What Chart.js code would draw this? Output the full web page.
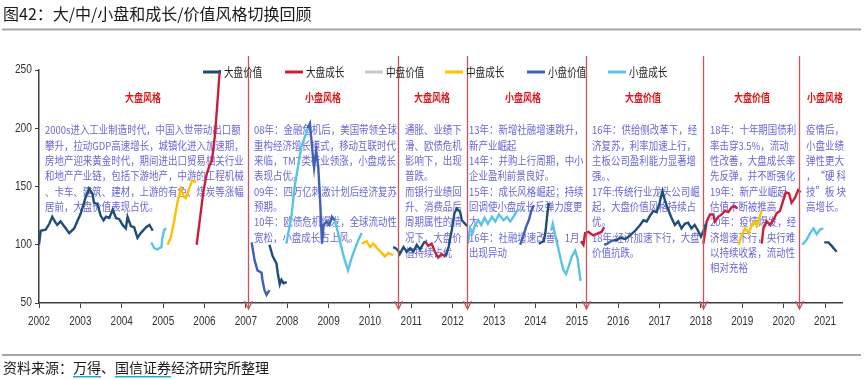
<!DOCTYPE html>
<html><head><meta charset="utf-8">
<script src="https://cdn.jsdelivr.net/npm/chart.js@4/dist/chart.umd.min.js"></script>
<style>html,body{margin:0;padding:0;background:#fff;}canvas{display:block}</style>
</head><body>
<canvas id="c" width="865" height="380"></canvas>
<script>
// ---- Series data (year, index value); null = break between segments ----
const seriesNames = ['大盘价值','大盘成长','中盘价值','中盘成长','小盘价值','小盘成长'];

const bigValueX = [2002.00,2002.04,2002.16,2002.25,2002.32,2002.40,2002.44,2002.52,2002.65,2002.73,2002.85,2003.01,2003.13,2003.21,2003.29,2003.33,2003.41,2003.49,2003.56,2003.62,2003.70,2003.78,2003.86,2003.94,2004.02,2004.10,2004.14,2004.22,2004.30,2004.38,2004.46,2004.59,2004.67,2004.75,null,
  2007.57,2007.65,2007.74,2007.77,2007.82,2007.86,2007.91,2007.99,null,
  2010.56,2010.62,2010.68,2010.72,2010.81,2010.89,2010.97,2011.05,2011.13,2011.21,2011.29,2011.33,null,
  2011.82,2011.90,2011.98,2012.04,2012.10,2012.18,2012.22,2012.30,2012.36,null,
  2014.08,2014.20,2014.24,2014.28,2014.32,null,
  2015.90,2015.97,2016.05,2016.17,2016.29,2016.41,2016.53,2016.61,2016.69,2016.77,2016.85,2016.93,2017.00,2017.07,2017.13,2017.21,2017.29,2017.37,2017.45,2017.53,2017.61,2017.69,2017.77,2017.85,2017.93,2018.00,2018.06,2018.12,null,
  2020.98,2021.08,2021.16,2021.28];
const bigValueY = [100,112,113,118,124,119,117,120,114,110,114,127,141,148,144,136,135,125,121,124,123,130,123,122,117,114,124,116,115,106,110,115,117,112,null,
  100,90,84,76,66,70,67,68,null,
  98,97,95,92,98,94,97,94,100,96,101,103,null,
  90,98,113,127,131,128,121,118,116,null,
  101,103,110,124,136,null,
  104,104,106,105,108,112,117,121,120,125,129,128,136,146,138,130,123,117,120,114,118,119,114,117,112,107,112,118,null,
  102,102,99,94];

const bigGrowthX = [2005.81,2005.89,2005.97,2006.05,2006.12,2006.18,2006.25,2006.30,2006.37,null,
  2011.33,2011.41,2011.49,2011.57,2011.65,2011.73,2011.82,null,
  2015.10,2015.16,2015.20,2015.28,2015.40,2015.52,2015.60,2015.66,null,
  2018.06,2018.14,2018.22,2018.30,2018.34,2018.42,2018.50,2018.58,2018.66,2018.74,2018.82,2018.88,null,
  2019.47,2019.51,2019.59,2019.67,2019.75,2019.83,2019.91,2019.99,2020.05,2020.13,2020.19,2020.27,2020.35,2020.41];
const bigGrowthY = [100,122,145,160,168,172,193,216,250,null,
  103,99,101,94,89,92,90,null,
  103,100,110,111,108,110,111,115,null,
  101,120,126,126,120,124,126,129,128,132,133,131,null,
  101,114,120,117,121,127,129,138,145,144,136,140,147,145];

const midValueX = [];
const midValueY = [];

const midGrowthX = [2005.11,2005.19,2005.27,2005.35,2005.43,2005.50,2005.55,2005.63,2005.70,2005.80,null,
  2009.80,2009.92,2010.00,2010.08,2010.20,2010.28,2010.36,2010.44,2010.56,null,
  2018.91,2018.99,2019.07,2019.15,2019.23,2019.29,2019.35,2019.41,2019.47];
const midGrowthY = [100,107,121,137,148,141,140,148,155,154,null,
  101,103,98,101,96,93,90,93,91,null,
  100,109,114,110,117,120,116,123,129];

const smallValueX = [2007.14,2007.21,2007.28,2007.38,2007.40,2007.45,2007.50,2007.57,null,
  2008.50,2008.55,2008.60,2008.65,2008.70,2008.75,2008.80,2008.84,2008.88,2008.95,2009.02,2009.08,2009.15,null,
  2013.63,2013.70,2013.78,2013.84,2013.90,2013.96,null,
  2015.66,2015.74,2015.82,2015.90];
const smallValueY = [102,87,78,76,70,61,57,61,null,
  200,204,184,166,181,167,134,101,117,120,117,124,121,null,
  100,107,116,121,129,134,null,
  100,101,103,104];

const smallGrowthX = [2004.71,2004.79,2004.86,2004.96,2004.98,2005.03,2005.08,null,
  2007.98,2008.10,2008.18,2008.26,2008.34,2008.42,2008.50,null,
  2009.15,2009.19,2009.28,2009.38,2009.47,2009.55,2009.63,2009.72,2009.80,null,
  2012.37,2012.42,2012.48,2012.54,2012.62,2012.69,2012.77,2012.85,2012.95,2013.03,2013.12,2013.23,2013.31,2013.39,2013.47,2013.53,2013.60,null,
  2014.38,2014.42,2014.48,2014.54,2014.62,2014.68,2014.74,2014.80,2014.88,2014.96,2015.02,2015.09,null,
  2020.45,2020.55,2020.64,2020.72,2020.80,2020.88,2020.96];
const smallGrowthY = [102,97,96,98,106,113,114,null,
  101,124,150,167,184,192,200,null,
  121,116,102,88,78,88,96,104,110,null,
  101,114,110,117,121,117,123,118,124,120,126,121,124,120,124,128,130,null,
  112,118,108,99,86,78,75,81,90,95,88,69,null,
  100,104,110,114,109,113,114];

// style switch dates (arrows)
const switchYears = [2007.05, 2010.68, 2012.34, 2015.21, 2018.06, 2020.38];

const yearTicks = [2002,2003,2004,2005,2006,2007,2008,2009,2010,2011,2012,2013,2014,2015,2016,2017,2018,2019,2020,2021];
const valueTicks = [50,100,150,200,250];

// ---- text ----
const titleText = '图42：大/中/小盘和成长/价值风格切换回顾';
const sourceText = ['资料来源：','万得','、','国信证券','经济研究所整理'];
const headings = ['大盘风格','小盘风格','大盘风格','小盘风格','大盘价值','大盘价值','小盘风格'];
const notes = [
 ['2000s进入工业制造时代，中国入世带动出口额','攀升，拉动GDP高速增长，城镇化进入加速期，','房地产迎来黄金时代，期间进出口贸易相关行业','和地产产业链，包括下游地产，中游的工程机械','、卡车、建筑、建材，上游的有色、煤炭等涨幅','居前，大盘价值表现占优。'],
 ['08年：金融危机后，美国带领全球','重构经济增长模式，移动互联时代','来临，TMT类行业领涨，小盘成长','表现占优。','09年：四万亿刺激计划后经济复苏','预期。','10年：欧债危机爆发，全球流动性','宽松，小盘成长占上风。'],
 ['通胀、业绩下','滑、欧债危机','影响下，出现','普跌。','而银行业绩回','升、消费品后','周期属性的情','况下，大盘价','值持续占优'],
 ['13年：新增社融增速跳升，','新产业崛起','14年：并购上行周期，中小','企业盈利前景良好。','15年：成长风格崛起；持续','回调使小盘成长反弹力度更','大','16年：社融增速改善，1月','出现异动'],
 ['16年：供给侧改革下，经','济复苏，利率加速上行，','主板公司盈利能力显著增','强。、','17年:传统行业龙头公司崛','起，大盘价值风格持续占','优。','18年:经济加速下行，大盘','价值抗跌。'],
 ['18年：十年期国债利','率击穿3.5%，流动','性改善，大盘成长率','先反弹，并不断强化','19年：新产业崛起','估值不断被推高','20年：疫情爆发，经','济增速下行，央行难','以持续收紧，流动性','相对充裕'],
 ['疫情后，','小盘业绩','弹性更大','，“硬 科','技”板 块','高增长。']
];

// ---- layout (pixels) ----
const headingPos = [143,323,432,523,643,752,825];
const notePos = [45,254,405,469,592,710,806];
const colors = ['#1F4E79','#C8203A','#C9C9C9','#FFC000','#3F5FB8','#5BC3E6'];
const CJK = '"Noto Sans CJK SC","Noto Sans CJK JP",sans-serif';
const NUM = '"Liberation Sans",Arial,sans-serif';

function mk(xs, ys){ return xs.map((x,i)=>({x:x, y:ys[i]})); }
const allX=[bigValueX,bigGrowthX,midValueX,midGrowthX,smallValueX,smallGrowthX];
const allY=[bigValueY,bigGrowthY,midValueY,midGrowthY,smallValueY,smallGrowthY];
const datasets = seriesNames.map((n,i)=>({label:n, data:mk(allX[i],allY[i]), borderColor:colors[i], backgroundColor:colors[i], borderWidth:2.4, pointRadius:0, spanGaps:false, tension:0}));

function sText(ctx, t, x, y, sx, align){
  ctx.save(); ctx.translate(x,y); ctx.scale(sx,1);
  ctx.textAlign = align||'left'; ctx.fillText(t,0,0); ctx.restore();
}

const overlay = {
  id:'overlay',
  beforeDatasetsDraw(chart){
    const ctx = chart.ctx;
    ctx.save();
    ctx.textBaseline='middle';
    ctx.fillStyle='#E3141B'; ctx.font='bold 11px '+CJK;
    headings.forEach((h,i)=> sText(ctx,h,headingPos[i],98,0.82,'center'));
    ctx.fillStyle='#6A66D9'; ctx.font='11px '+CJK;
    notes.forEach((blk,i)=> blk.forEach((ln,j)=> sText(ctx,ln,notePos[i],130+j*15.35,0.86,'left')));
    ctx.restore();
  },
  afterDatasetsDraw(chart){
    const ctx = chart.ctx, xs = chart.scales.x, ys = chart.scales.y, a = chart.chartArea;
    ctx.save();
    // axis tick labels (narrow style), placed by the library's scales
    ctx.fillStyle='#333'; ctx.font='12.5px '+NUM; ctx.textBaseline='middle';
    xs.ticks.forEach(t=> sText(ctx,String(t.value),xs.getPixelForValue(t.value),322,0.8,'center'));
    ys.ticks.forEach(t=> sText(ctx,String(t.value),32,ys.getPixelForValue(t.value),0.82,'right'));
    // switch arrows
    ctx.strokeStyle='#C9545A'; ctx.lineWidth=1.3;
    switchYears.forEach(yr=>{
      const px = Math.round(xs.getPixelForValue(yr))+0.5;
      ctx.beginPath(); ctx.moveTo(px,56); ctx.lineTo(px,a.bottom+6); ctx.stroke();
      ctx.beginPath(); ctx.moveTo(px-4,a.bottom-2); ctx.lineTo(px,a.bottom+6); ctx.lineTo(px+4,a.bottom-2); ctx.stroke();
    });
    // legend
    ctx.textBaseline='middle'; ctx.font='12px '+CJK;
    const lx=[203,285,365,445,527,608];
    chart.data.datasets.forEach((d,i)=>{
      ctx.strokeStyle=d.borderColor; ctx.lineWidth=3;
      ctx.beginPath(); ctx.moveTo(lx[i],72); ctx.lineTo(lx[i]+18,72); ctx.stroke();
      ctx.fillStyle='#222'; sText(ctx,d.label,lx[i]+21,72,0.8,'left');
    });
    ctx.restore();
  },
  afterDraw(chart){
    const ctx = chart.ctx;
    ctx.save();
    ctx.textBaseline='middle';
    ctx.fillStyle='#1a1a1a'; ctx.font='16px '+CJK;
    ctx.fillText(titleText,3,14);
    ctx.fillStyle='#A6A6A6';
    ctx.fillRect(2,28.5,859,2);
    ctx.fillRect(2,354,859,2);
    ctx.font='14px '+CJK; ctx.fillStyle='#1a1a1a';
    let x=3;
    sourceText.forEach((s,i)=>{
      const w=ctx.measureText(s).width;
      ctx.fillText(s,x,368);
      if(i===1||i===3){ ctx.fillStyle='#2AA7C9'; ctx.fillRect(x,376,w,1.5); ctx.fillStyle='#1a1a1a'; }
      x+=w;
    });
    ctx.restore();
  }
};

new Chart(document.getElementById('c'), {
  type:'line',
  data:{datasets},
  options:{
    responsive:false, animation:false, devicePixelRatio:1,
    layout:{padding:{top:70,right:23,left:0,bottom:0}},
    plugins:{legend:{display:false}, tooltip:{enabled:false}},
    scales:{
      x:{type:'linear', min:2002, max:2021.41,
        afterFit(s){ s.height=77; },
        afterBuildTicks(s){ s.ticks = yearTicks.map(v=>({value:v})); },
        ticks:{autoSkip:false, maxRotation:0, includeBounds:false, color:'rgba(0,0,0,0)', padding:3, callback:v=>String(v)},
        grid:{drawOnChartArea:false, drawTicks:true, tickLength:5, color:'#404040', lineWidth:1},
        border:{display:true, color:'#404040', width:1.5}},
      y:{min:50, max:250,
        afterFit(s){ s.width=39; },
        afterBuildTicks(s){ s.ticks = valueTicks.map(v=>({value:v})); },
        ticks:{color:'rgba(0,0,0,0)', padding:2},
        grid:{drawOnChartArea:false, drawTicks:true, tickLength:4, color:'#404040', lineWidth:1},
        border:{display:true, color:'#404040', width:1.5}}
    }
  },
  plugins:[overlay]
});
</script>
</body></html>
